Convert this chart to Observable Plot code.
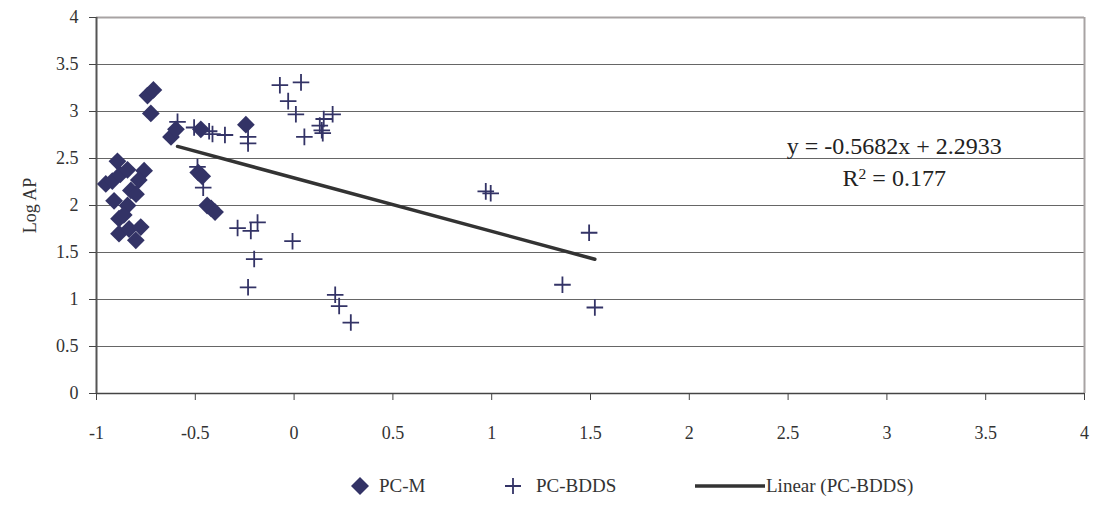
<!DOCTYPE html>
<html><head><meta charset="utf-8">
<script src="https://cdn.jsdelivr.net/npm/d3@7"></script>
<script src="https://cdn.jsdelivr.net/npm/@observablehq/plot@0.6"></script>
<style>
body{margin:0;background:#fff;font-family:"Liberation Serif","Times New Roman",serif;}
#wrap{position:relative;width:1093px;height:506px;overflow:hidden;}
#legend{position:relative;width:1093px;height:41px;font-size:19px;color:#333;}
#legend .it{position:absolute;top:0;height:41px;display:flex;align-items:center;}
#legend svg{display:block;}
</style></head><body><div id="wrap"></div><script>
// PC-M (diamonds)
const pcmX=[-0.742,-0.712,-0.725,-0.623,-0.598,-0.472,-0.244,-0.485,-0.465,-0.44,-0.42,-0.40,
  -0.953,-0.92,-0.894,-0.911,-0.88,-0.843,-0.759,-0.786,-0.826,-0.80,-0.886,-0.843,-0.862,-0.886,-0.835,-0.801,-0.776];
const pcmY=[3.17,3.23,2.98,2.73,2.81,2.81,2.86,2.35,2.31,2.0,1.97,1.93,
  2.23,2.26,2.47,2.05,2.33,2.38,2.37,2.27,2.16,2.12,1.86,2.0,1.90,1.70,1.75,1.63,1.77];
// PC-BDDS (crosses)
const bddsX=[-0.59,-0.506,-0.43,-0.413,-0.35,-0.233,-0.233,
  -0.072,0.035,-0.03,0.009,0.052,0.13,0.14,0.15,0.195,0.145,
  -0.489,-0.46,
  -0.286,-0.219,-0.185,-0.008,-0.202,-0.233,
  0.208,0.228,0.287,
  0.97,0.995,1.493,1.358,1.522];
const bddsY=[2.89,2.83,2.79,2.76,2.75,2.73,2.66,
  3.28,3.31,3.11,2.97,2.73,2.85,2.80,2.92,2.97,2.77,
  2.41,2.19,
  1.76,1.73,1.82,1.62,1.43,1.13,
  1.05,0.93,0.755,
  2.15,2.13,1.71,1.157,0.915];
const xTicks=[-1,-0.5,0,0.5,1,1.5,2,2.5,3,3.5,4];
const yTicks=[0,0.5,1,1.5,2,2.5,3,3.5,4];
const slope=-0.5682, intercept=2.2933, r2=0.177;
const seriesNames=["PC-M","PC-BDDS","Linear (PC-BDDS)"];
const yTitle="Log AP";

const col="#333366";
const pcm=pcmX.map((x,i)=>({x,y:pcmY[i]}));
const bdds=bddsX.map((x,i)=>({x,y:bddsY[i]}));
const [xmin,xmax]=d3.extent(bddsX);
const fit=[xmin,xmax].map(x=>({x,y:slope*x+intercept}));
const eq1=`y = ${slope}x + ${intercept}`;
const eq2=`R2 = ${r2}`;

const chart=Plot.plot({
  width:1093,height:465,
  marginLeft:96,marginRight:9,marginTop:17,marginBottom:72,
  style:{fontFamily:"'Liberation Serif','Times New Roman',serif",fontSize:"18px",color:"#333",background:"#fff"},
  x:{domain:[-1,4]},
  y:{domain:[0,4]},
  marks:[
    Plot.gridY(yTicks.filter(d=>d>0&&d<4),{stroke:"#666",strokeOpacity:1,strokeWidth:1}),
    Plot.ruleY([4],{stroke:"#a8a3a3",strokeWidth:2}),
    Plot.ruleX([4],{stroke:"#a8a3a3",strokeWidth:2}),
    Plot.ruleY([0],{stroke:"#444",strokeWidth:1.5}),
    Plot.ruleX([-1],{stroke:"#555",strokeWidth:2}),
    Plot.axisX({ticks:xTicks,tickSize:7,tickPadding:26,tickFormat:d=>String(d),stroke:"#444",fill:"#333",fontSize:18,label:null}),
    Plot.axisY({ticks:yTicks,tickSize:7,tickPadding:11,tickFormat:d=>String(d),stroke:"#444",fill:"#333",fontSize:18,label:null}),
    Plot.text([yTitle],{frameAnchor:"left",dx:-66,rotate:-90,fontSize:18,fill:"#333",textAnchor:"middle"}),
    Plot.dot(bdds,{x:"x",y:"y",symbol:"plus",r:5.4,stroke:col,strokeWidth:1.8}),
    Plot.dot(pcm,{x:"x",y:"y",symbol:"diamond2",r:8,fill:col,stroke:"none"}),
    Plot.line(fit,{x:"x",y:"y",stroke:"#333",strokeWidth:3.5}),
    Plot.text([eq1],{x:3.037,y:2.63,fontSize:24,fill:"#222",textAnchor:"middle"}),
    Plot.text([eq2],{x:3.037,y:2.29,fontSize:24,fill:"#222",textAnchor:"middle"})
  ]
});
const wrap=document.getElementById("wrap");
wrap.appendChild(chart);
// superscript in R2
chart.querySelectorAll("text").forEach(t=>{
  if(t.textContent===eq2){
    t.textContent="";
    const ns="http://www.w3.org/2000/svg";
    const a=document.createElementNS(ns,"tspan");a.textContent="R";
    const b=document.createElementNS(ns,"tspan");b.textContent="2";b.setAttribute("dy","-0.45em");b.setAttribute("font-size","0.65em");
    const c=document.createElementNS(ns,"tspan");c.textContent=` = ${r2}`;c.setAttribute("dy","0.3em");
    t.append(a,b,c);
  }
});
const lg=document.createElement("div");lg.id="legend";
lg.innerHTML=`
<div class="it" style="left:350px"><svg width="20" height="20"><path d="M10,1L19,10L10,19L1,10Z" fill="${col}"/></svg><span style="margin-left:9px">${seriesNames[0]}</span></div>
<div class="it" style="left:503px"><svg width="20" height="20"><path d="M10,2V18M2,10H18" stroke="${col}" stroke-width="1.8"/></svg><span style="margin-left:13px">${seriesNames[1]}</span></div>
<div class="it" style="left:694px"><svg width="72" height="20"><path d="M1,10H71" stroke="#333" stroke-width="3.5"/></svg><span>${seriesNames[2]}</span></div>`;
wrap.appendChild(lg);
</script></body></html>
